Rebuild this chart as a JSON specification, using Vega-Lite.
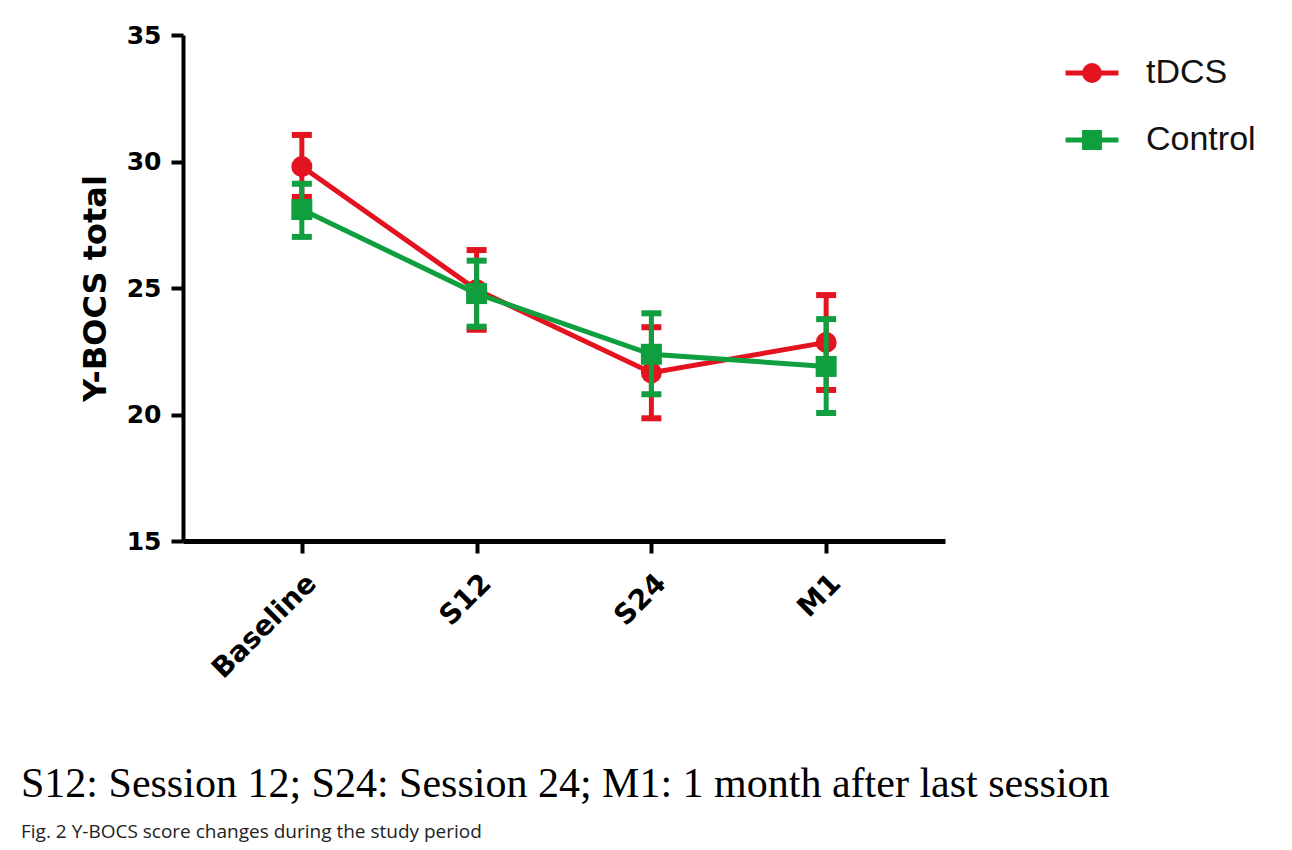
{
  "$schema": "https://vega.github.io/schema/vega-lite/v6.json",
  "width": 762,
  "height": 506,
  "autosize": "none",
  "padding": {"left": 183, "top": 35, "right": 347, "bottom": 309},
  "background": "white",
  "config": {
    "view": {"stroke": null},
    "axisY": {
      "grid": false, "domainWidth": 4, "domainColor": "#000", "tickWidth": 4, "tickColor": "#000", "tickSize": 12,
      "labelFont": "DejaVu Sans", "labelFontWeight": "bold", "labelFontSize": 25, "labelColor": "#000", "labelPadding": 10,
      "titleFont": "DejaVu Sans", "titleFontWeight": "bold", "titleFontSize": 32, "titleColor": "#000", "titlePadding": 14
    },
    "axisX": {
      "grid": false, "domainWidth": 5, "domainColor": "#000", "tickWidth": 4, "tickColor": "#000", "tickSize": 12,
      "labelAngle": -45, "labelFont": "DejaVu Sans", "labelFontWeight": "bold", "labelFontSize": 28, "labelColor": "#000", "labelPadding": 16
    }
  },
  "data": {
    "values": [
      {"group": "tDCS", "time": "Baseline", "mean": 29.8, "lo": 28.6, "hi": 31.05},
      {"group": "tDCS", "time": "S12", "mean": 24.93, "lo": 23.35, "hi": 26.5},
      {"group": "tDCS", "time": "S24", "mean": 21.65, "lo": 19.85, "hi": 23.45},
      {"group": "tDCS", "time": "M1", "mean": 22.85, "lo": 20.97, "hi": 24.72},
      {"group": "Control", "time": "Baseline", "mean": 28.1, "lo": 27.02, "hi": 29.12},
      {"group": "Control", "time": "S12", "mean": 24.78, "lo": 23.47, "hi": 26.08},
      {"group": "Control", "time": "S24", "mean": 22.38, "lo": 20.8, "hi": 24.0},
      {"group": "Control", "time": "M1", "mean": 21.9, "lo": 20.06, "hi": 23.77}
    ]
  },
  "title": {
    "text": "S12: Session 12; S24: Session 24; M1: 1 month after last session",
    "orient": "bottom", "anchor": "start", "frame": "group", "dx": -162, "offset": 80,
    "font": "Liberation Serif", "fontSize": 42, "fontWeight": "normal", "color": "#000",
    "subtitle": "Fig. 2 Y-BOCS score changes during the study period",
    "subtitleFont": "Open Sans", "subtitleFontSize": 19, "subtitleColor": "#222", "subtitlePadding": 17
  },
  "encoding": {
    "x": {
      "field": "time", "type": "ordinal", "sort": ["Baseline", "S12", "S24", "M1"],
      "scale": {"type": "point", "padding": 0.68}, "title": null
    },
    "color": {
      "field": "group", "type": "nominal",
      "scale": {"domain": ["tDCS", "Control"], "range": ["#e3131f", "#0f9f3f"]},
      "legend": {
        "title": null, "orient": "none", "legendX": 892, "legendY": 21, "padding": 0,
        "labelFont": "Liberation Sans", "labelFontSize": 34, "labelColor": "#111", "labelOffset": 37,
        "symbolSize": 441, "symbolStrokeWidth": 5, "rowPadding": 31,
        "encode": {
          "symbols": {
            "update": {
              "shape": {"signal": "datum.value === 'tDCS' ? 'M-2.52,0H2.52M0.71,0A0.71,0.71,0,1,1,-0.71,0A0.71,0.71,0,1,1,0.71,0Z' : 'M-2.52,0H2.52M-0.71,-0.71H0.71V0.71H-0.71Z'"},
              "fill": {"signal": "datum.value === 'tDCS' ? '#e3131f' : '#0f9f3f'"},
              "stroke": {"signal": "datum.value === 'tDCS' ? '#e3131f' : '#0f9f3f'"},
              "strokeWidth": {"value": 5},
              "opacity": {"value": 1}
            }
          }
        }
      }
    }
  },
  "layer": [
    {
      "transform": [{"filter": "datum.group === 'tDCS'"}],
      "layer": [
        {"mark": {"type": "rule", "strokeWidth": 5},
         "encoding": {"y": {"field": "lo", "type": "quantitative", "title": "Y-BOCS total", "scale": {"domain": [15, 35]}, "axis": {"values": [15, 20, 25, 30, 35]}}, "y2": {"field": "hi"}}},
        {"mark": {"type": "tick", "thickness": 6, "size": 20, "opacity": 1},
         "encoding": {"y": {"field": "lo", "type": "quantitative", "title": "Y-BOCS total", "scale": {"domain": [15, 35]}, "axis": {"values": [15, 20, 25, 30, 35]}}}},
        {"mark": {"type": "tick", "thickness": 6, "size": 20, "opacity": 1},
         "encoding": {"y": {"field": "hi", "type": "quantitative", "title": "Y-BOCS total", "scale": {"domain": [15, 35]}, "axis": {"values": [15, 20, 25, 30, 35]}}}},
        {"mark": {"type": "line", "strokeWidth": 5},
         "encoding": {"y": {"field": "mean", "type": "quantitative", "title": "Y-BOCS total", "scale": {"domain": [15, 35]}, "axis": {"values": [15, 20, 25, 30, 35]}}}},
        {"mark": {"type": "point", "shape": "circle", "filled": true, "size": 441, "opacity": 1},
         "encoding": {"y": {"field": "mean", "type": "quantitative", "title": "Y-BOCS total", "scale": {"domain": [15, 35]}, "axis": {"values": [15, 20, 25, 30, 35]}}}}
      ]
    },
    {
      "transform": [{"filter": "datum.group === 'Control'"}],
      "layer": [
        {"mark": {"type": "rule", "strokeWidth": 5},
         "encoding": {"y": {"field": "lo", "type": "quantitative", "title": "Y-BOCS total", "scale": {"domain": [15, 35]}, "axis": {"values": [15, 20, 25, 30, 35]}}, "y2": {"field": "hi"}}},
        {"mark": {"type": "tick", "thickness": 6, "size": 20, "opacity": 1},
         "encoding": {"y": {"field": "lo", "type": "quantitative", "title": "Y-BOCS total", "scale": {"domain": [15, 35]}, "axis": {"values": [15, 20, 25, 30, 35]}}}},
        {"mark": {"type": "tick", "thickness": 6, "size": 20, "opacity": 1},
         "encoding": {"y": {"field": "hi", "type": "quantitative", "title": "Y-BOCS total", "scale": {"domain": [15, 35]}, "axis": {"values": [15, 20, 25, 30, 35]}}}},
        {"mark": {"type": "line", "strokeWidth": 5},
         "encoding": {"y": {"field": "mean", "type": "quantitative", "title": "Y-BOCS total", "scale": {"domain": [15, 35]}, "axis": {"values": [15, 20, 25, 30, 35]}}}},
        {"mark": {"type": "point", "shape": "square", "filled": true, "size": 441, "opacity": 1},
         "encoding": {"y": {"field": "mean", "type": "quantitative", "title": "Y-BOCS total", "scale": {"domain": [15, 35]}, "axis": {"values": [15, 20, 25, 30, 35]}}}}
      ]
    }
  ]
}
